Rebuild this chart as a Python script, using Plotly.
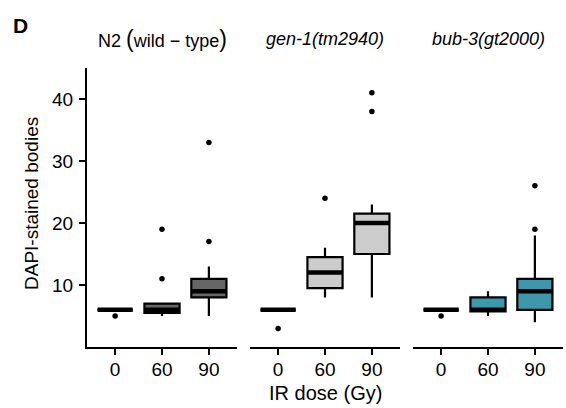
import plotly.graph_objects as go

W, H = 566, 408

# ---- data ----
doses = ["0", "60", "90"]
panels = [
    "N2 <span style='font-size:23px'>(</span>wild \u2212 type<span style='font-size:23px'>)</span>",
    "<i>gen-1(tm2940)</i>",
    "<i>bub-3(gt2000)</i>",
]
fills = ["#666666", "#cccccc", "#3d98ab"]

n2_q1 = [6, 5.5, 8]
n2_med = [6, 6, 9]
n2_q3 = [6, 7, 11]
n2_lo = [6, 5, 5]
n2_hi = [6, 7, 13]
n2_out_dose = [0, 1, 1, 2, 2]
n2_out_val = [5, 11, 19, 17, 33]

gen1_q1 = [6, 9.5, 15]
gen1_med = [6, 12, 20]
gen1_q3 = [6, 14.5, 21.5]
gen1_lo = [6, 8, 8]
gen1_hi = [6, 16, 23]
gen1_out_dose = [0, 1, 2, 2]
gen1_out_val = [3, 24, 38, 41]

bub3_q1 = [6, 5.75, 6]
bub3_med = [6, 6, 9]
bub3_q3 = [6, 8, 11]
bub3_lo = [6, 5, 4]
bub3_hi = [6, 9, 18]
bub3_out_dose = [0, 2, 2]
bub3_out_val = [5, 19, 26]

y_ticks = [10, 20, 30, 40]

stats = [
    (n2_q1, n2_med, n2_q3, n2_lo, n2_hi, n2_out_dose, n2_out_val),
    (gen1_q1, gen1_med, gen1_q3, gen1_lo, gen1_hi, gen1_out_dose, gen1_out_val),
    (bub3_q1, bub3_med, bub3_q3, bub3_lo, bub3_hi, bub3_out_dose, bub3_out_val),
]

FONT = "Liberation Sans, Arial, sans-serif"
BOXW = 0.75

fig = go.Figure()
xpos = list(range(len(doses)))
for i, (q1, med, q3, lo, hi, od, ov) in enumerate(stats):
    xa = "x" if i == 0 else f"x{i+1}"
    fig.add_trace(go.Box(
        x=xpos, q1=q1, median=med, q3=q3, lowerfence=lo, upperfence=hi,
        width=BOXW, whiskerwidth=0, fillcolor=fills[i],
        line=dict(color="black", width=2.2), boxpoints=False,
        xaxis=xa, yaxis="y", showlegend=False, hoverinfo="skip",
    ))
    # thicker median bars (ggplot style)
    mx, my = [], []
    for j, m in enumerate(med):
        mx += [xpos[j] - BOXW / 2, xpos[j] + BOXW / 2, None]
        my += [m, m, None]
    fig.add_trace(go.Scatter(
        x=mx, y=my, mode="lines", line=dict(color="black", width=4.5),
        xaxis=xa, yaxis="y", showlegend=False, hoverinfo="skip",
    ))
    fig.add_trace(go.Scatter(
        x=od, y=ov, mode="markers", marker=dict(color="black", size=5.5),
        xaxis=xa, yaxis="y", showlegend=False, hoverinfo="skip",
    ))

# panel pixel extents
px_l = [87, 250, 413]
px_w = 150
axis_common = dict(
    range=[-0.6, 2.6], tickmode="array", tickvals=xpos, ticktext=doses,
    showline=True, linecolor="black", linewidth=2, ticks="outside",
    ticklen=6, tickwidth=2, tickcolor="black", showgrid=False, zeroline=False,
    tickfont=dict(family=FONT, size=19, color="black"), anchor="y",
    ticklabelstandoff=-2,
)
layout = dict(
    width=W, height=H, margin=dict(l=0, r=0, t=0, b=0),
    paper_bgcolor="white", plot_bgcolor="white",
    yaxis=dict(
        domain=[1 - 347 / H, 1 - 68 / H], range=[0, 45], tickvals=y_ticks,
        showline=True, linecolor="black", linewidth=2, ticks="outside",
        ticklen=6, tickwidth=2, tickcolor="black", showgrid=False, zeroline=False,
        tickfont=dict(family=FONT, size=19, color="black"), anchor="x",
        ticklabelstandoff=2,
    ),
)
for i in range(3):
    key = "xaxis" if i == 0 else f"xaxis{i+1}"
    layout[key] = dict(axis_common, domain=[px_l[i] / W, (px_l[i] + px_w) / W])
fig.update_layout(**layout)

ann = []
for i in range(3):
    ann.append(dict(
        x=(px_l[i] + px_w / 2) / W, y=1 - 39 / H, xref="paper", yref="paper",
        text=panels[i], showarrow=False, xanchor="center", yanchor="middle",
        font=dict(family=FONT, size=18, color="black"),
    ))
ann.append(dict(x=325 / W, y=1 - 393 / H, xref="paper", yref="paper",
                text="IR dose (Gy)", showarrow=False, xanchor="center", yanchor="middle",
                font=dict(family=FONT, size=20, color="black")))
ann.append(dict(x=31 / W, y=1 - 204 / H, xref="paper", yref="paper",
                text="DAPI-stained bodies", showarrow=False, textangle=-90,
                xanchor="center", yanchor="middle",
                font=dict(family=FONT, size=19, color="black")))
ann.append(dict(x=20 / W, y=1 - 25 / H, xref="paper", yref="paper",
                text="<b>D</b>", showarrow=False, xanchor="center", yanchor="middle",
                font=dict(family=FONT, size=21, color="black")))
fig.update_layout(annotations=ann)

fig.write_html(
    "out.html",
    config={"displayModeBar": False},
    post_script="document.body.style.margin='0';document.body.style.overflow='hidden';",
)
